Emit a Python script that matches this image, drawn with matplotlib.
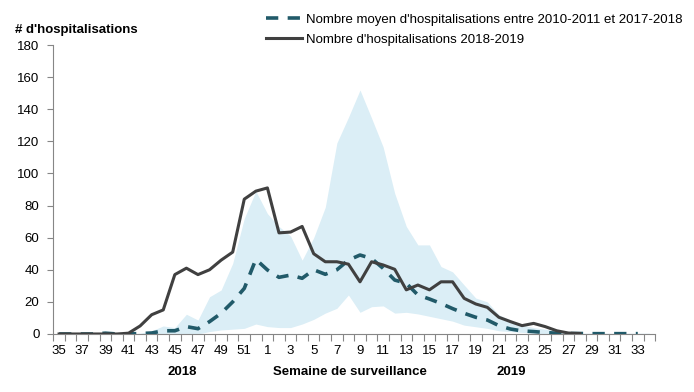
import numpy as np
import matplotlib.pyplot as plt

# ============================================================
# Data
# ============================================================

weeks = list(range(35, 53)) + list(range(1, 35))

# 2018-2019 season, ends at week 28
solid_2018_2019 = [0, 0, 0, 0, 0, 0, 0.5, 5, 12, 15, 37, 41, 37, 40, 46, 51, 84, 89,
                   91, 63, 63.5, 67, 50, 45, 45, 43.5, 32.5, 45, 43, 40.3, 27.5, 30.5,
                   27.5, 32.5, 32.5, 22.2, 18.7, 16.6, 10.4, 7.7, 5.2, 6.6, 4.6, 2, 0.6, 0.3]

# mean 2010-2011 to 2017-2018, ends at week 33
mean_hist = [0, 0, 0, 0, 0.5, 0, 0, 0.3, 0.6, 2, 2, 4.6, 3.3, 7.7, 12.9, 20, 28.4, 46.5,
             39.9, 35.3, 36.7, 34.7, 40, 37.2, 40, 46, 49.2, 47, 40.9, 33.6, 31.6, 24.3,
             21.8, 19, 15.8, 12.9, 10.4, 8.7, 5.2, 3.1, 1.9, 1.5, 0.9, 0.5, 0.3, 0.3,
             0.2, 0.2, 0.2, 0.2, 0.2]

band_max = [0, 0, 0, 0, 1, 0, 0, 0.5, 2, 5, 4, 12.3, 8.7, 23.2, 27.4, 44, 72, 89,
            75, 67, 61, 46, 60, 79, 119, 135, 152, 134.5, 116.5, 87.6, 67, 55.5,
            55.5, 42, 38.7, 30.5, 22.4, 20, 12, 8.7, 5.6, 4, 3, 2, 1, 0.5,
            0.5, 0.5, 0.5, 0.5, 0.5, 0.5]

band_min = [0, 0, 0, 0, 0, 0, 0, 0, 0, 0, 0, 0, 0, 1.5, 2.5, 3, 3.5, 6.2,
            4.6, 4, 4, 6.2, 9.1, 13, 16, 24.3, 13.5, 17, 17.5, 13, 13.5, 12.5,
            11, 9.5, 8, 5.5, 4.5, 3.5, 2, 1.5, 1, 0.5, 0, 0, 0, 0,
            0, 0, 0, 0, 0, 0]

y_ticks = list(range(0, 181, 20))

# ============================================================
# Plot
# ============================================================

plt.rcParams['font.family'] = ['Liberation Sans', 'DejaVu Sans']

fig = plt.figure(figsize=(6.94, 3.92), dpi=100)
ax = fig.add_axes([0.0768, 0.148, 0.8672, 0.737])

x_all = np.arange(len(weeks))

ax.fill_between(x_all, band_min, band_max, color="#dbeef6", linewidth=0, zorder=1)

ax.plot(np.arange(len(mean_hist)), mean_hist, color="#215a69", linewidth=2.6,
        linestyle=(0, (3.4, 2.6)), zorder=3,
        label="Nombre moyen d'hospitalisations entre 2010-2011 et 2017-2018")
ax.plot(np.arange(len(solid_2018_2019)), solid_2018_2019, color="#404040",
        linewidth=2.2, zorder=4, label="Nombre d'hospitalisations 2018-2019")

ax.set_xlim(-0.5, len(weeks) - 0.5)
ax.set_ylim(0, 180)
ax.set_yticks(y_ticks)
ax.tick_params(axis="y", labelsize=9.5, length=4, color="#868686", pad=6)

# category axis: ticks between categories, labels every other week
ax.set_xticks(np.arange(-0.5, len(weeks)), minor=False)
ax.set_xticklabels([])
ax.set_xticks(x_all[::2], minor=True)
ax.set_xticklabels([str(w) for w in weeks[::2]], minor=True)
ax.tick_params(axis="x", which="major", length=5, color="#868686")
ax.tick_params(axis="x", which="minor", length=0, labelsize=9.5, pad=8)

for side in ["top", "right"]:
    ax.spines[side].set_visible(False)
for side in ["left", "bottom"]:
    ax.spines[side].set_color("#868686")

fig.text(0.022, 0.923, "# d'hospitalisations", fontsize=9.5, fontweight="bold",
         va="center", ha="left")
fig.text(0.262, 0.051, "2018", fontsize=9.5, fontweight="bold", ha="center", va="center")
fig.text(0.504, 0.051, "Semaine de surveillance", fontsize=9.5, fontweight="bold",
         ha="center", va="center")
fig.text(0.736, 0.051, "2019", fontsize=9.5, fontweight="bold", ha="center", va="center")

fig.legend(loc="upper left", bbox_to_anchor=(0.384, 0.966), frameon=False,
           fontsize=9.5, handlelength=2.7, handletextpad=0.3, labelspacing=0.6,
           borderaxespad=0, borderpad=0)

fig.savefig("out.png", dpi=100)
